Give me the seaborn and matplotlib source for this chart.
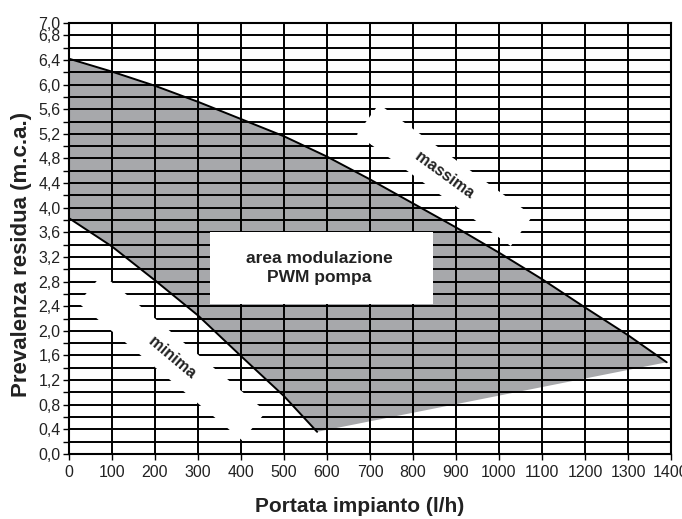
import numpy as np
import matplotlib
matplotlib.use("Agg")
import matplotlib.pyplot as plt
import seaborn as sns
from matplotlib.patches import Rectangle

# ---- data ----
max_x = [0, 100, 200, 300, 400, 500, 600, 700, 800, 900, 1000, 1100, 1200, 1300, 1390]
max_y = [6.42, 6.21, 5.98, 5.72, 5.44, 5.16, 4.83, 4.46, 4.07, 3.68, 3.27, 2.84, 2.38, 1.93, 1.49]
min_x = [0, 100, 200, 300, 400, 500, 577]
min_y = [3.83, 3.37, 2.82, 2.25, 1.59, 0.94, 0.36]
base_x = [577, 1390]
base_y = [0.36, 1.49]

x_ticks = list(range(0, 1401, 100))
y_ticks = [round(0.2 * i, 1) for i in range(36)]
y_labels = [("%.1f" % v).replace(".", ",") if (i % 2 == 0 and v <= 6.4) or v >= 6.8 else ""
            for i, v in enumerate(y_ticks)]

x_title = "Portata impianto (l/h)"
y_title = "Prevalenza residua (m.c.a.)"
area_text = "area modulazione\nPWM pompa"

sns.set_theme(style="white")
plt.rcParams['font.family'] = ['Liberation Sans', 'DejaVu Sans']

fig = plt.figure(figsize=(6.82, 5.19), dpi=100)
ax = fig.add_axes([69 / 682, 65 / 519, 602 / 682, 431 / 519])

# shaded region
poly_x = max_x + base_x[::-1] + min_x[::-1]
poly_y = max_y + base_y[::-1] + min_y[::-1]
ax.fill(poly_x, poly_y, color="#a7a8ab", lw=0, zorder=1)

# curves
sns.lineplot(x=max_x, y=max_y, color="black", lw=1.4, ax=ax, zorder=4)
sns.lineplot(x=min_x, y=min_y, color="black", lw=1.4, ax=ax, zorder=4)

ax.set_xlim(0, 1400)
ax.set_ylim(0, 7.0)
ax.set_xticks(x_ticks)
ax.set_xticklabels([str(v) for v in x_ticks])
ax.set_yticks(y_ticks)
ax.set_yticklabels(y_labels)
ax.set_axisbelow(False)
ax.grid(True, color="black", lw=1.4)
ax.tick_params(axis="both", bottom=True, left=True, direction="out", length=4,
               width=1, color="black", labelsize=11.5, labelcolor="#222222", pad=2)
ax.tick_params(axis="x", pad=4)
for s in ax.spines.values():
    s.set_color("black")
    s.set_linewidth(1.5)

# labels on white bands
band = dict(boxstyle="square,pad=0.7", fc="white", ec="none")
ax.text(874, 4.53, " " * 11 + "massima" + " " * 11, rotation=-36, rotation_mode="anchor",
        ha="center", va="center", fontsize=11.5, fontweight="bold", color="#222222",
        bbox=band, zorder=5)
ax.text(240, 1.57, " " * 15 + "minima" + " " * 15, rotation=-40, rotation_mode="anchor",
        ha="center", va="center", fontsize=11.5, fontweight="bold", color="#222222",
        bbox=band, zorder=5)

ax.add_patch(Rectangle((328, 2.43), 519, 1.17, fc="white", ec="none", zorder=5))
ax.text(582, 3.02, area_text, ha="center", va="center", fontsize=12.5,
        fontweight="bold", color="#222222", linespacing=1.3, zorder=6)

ax.set_xlabel(x_title, fontsize=15, fontweight="bold", color="#222222")
ax.set_ylabel(y_title, fontsize=16, fontweight="bold", color="#222222")
ax.xaxis.set_label_coords(0.483, -0.10)
ax.yaxis.set_label_coords(-0.0615, 0.462)

fig.savefig("out.png", dpi=100)
